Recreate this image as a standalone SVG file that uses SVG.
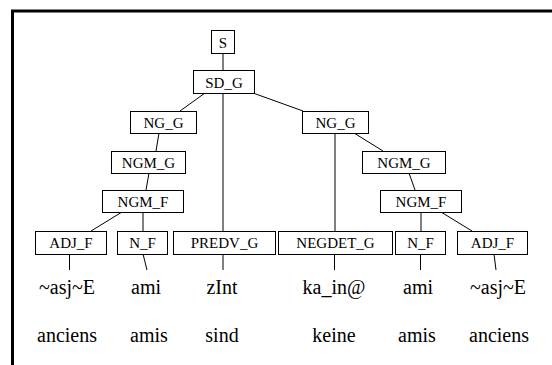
<svg xmlns="http://www.w3.org/2000/svg" width="552" height="365" viewBox="0 0 552 365">
  <style>
    .box rect { fill: #fff; stroke: #000; stroke-width: 1; }
    .box text { font-size: 15px; text-anchor: middle; fill: #000; }
    .edges line { stroke: #000; stroke-width: 1; }
    .word { font-size: 20px; text-anchor: middle; fill: #000; }
    .frame { stroke: #000; stroke-width: 3; fill: none; }
    .serif { font-family: 'Liberation Serif', 'Times New Roman', Times, Tinos, 'Nimbus Roman', 'Nimbus Roman No9 L', FreeSerif, 'Noto Serif', 'DejaVu Serif', serif; }
  </style>
  <rect width="552" height="365" fill="#fff"/>
  <!-- frame: left and top rules -->
  <path class="frame" d="M12.5,365 V11 H552"/>

  <g class="edges" id="edges">
    <line x1="223" y1="53" x2="223" y2="70"/>
    <line x1="205" y1="93" x2="180" y2="111"/>
    <line x1="223" y1="93" x2="223" y2="231"/>
    <line x1="253" y1="93" x2="303" y2="111"/>
    <line x1="159" y1="133" x2="156" y2="151"/>
    <line x1="149" y1="173" x2="146" y2="190"/>
    <line x1="122" y1="212" x2="91" y2="231"/>
    <line x1="143" y1="212" x2="143" y2="231"/>
    <line x1="335" y1="133" x2="335" y2="231"/>
    <line x1="354" y1="133" x2="383" y2="151"/>
    <line x1="409" y1="173" x2="415" y2="190"/>
    <line x1="421" y1="212" x2="421" y2="231"/>
    <line x1="441" y1="212" x2="472" y2="231"/>
    <line x1="69.5" y1="254" x2="69.5" y2="270"/>
    <line x1="143" y1="254" x2="147" y2="270"/>
    <line x1="223" y1="254" x2="223" y2="270"/>
    <line x1="334.5" y1="254" x2="334.5" y2="270"/>
    <line x1="420.5" y1="254" x2="420.5" y2="270"/>
    <line x1="494" y1="254" x2="496" y2="270"/>
  </g>

  <g class="serif">
  <g class="box" id="n-S"><rect x="211.5" y="30.5" width="23" height="23"/><text x="223" y="47.5">S</text></g>
  <g class="box" id="n-SD_G"><rect x="193.5" y="70.5" width="61" height="23"/><text x="224" y="87.5">SD_G</text></g>
  <g class="box" id="n-NG_G-1"><rect x="130.5" y="111.5" width="66" height="22"/><text x="163.5" y="128">NG_G</text></g>
  <g class="box" id="n-NG_G-2"><rect x="302.5" y="111.5" width="66" height="22"/><text x="335.5" y="128">NG_G</text></g>
  <g class="box" id="n-NGM_G-1"><rect x="111.5" y="151.5" width="74" height="22"/><text x="148.5" y="168">NGM_G</text></g>
  <g class="box" id="n-NGM_G-2"><rect x="362.5" y="151.5" width="83" height="22"/><text x="404" y="168">NGM_G</text></g>
  <g class="box" id="n-NGM_F-1"><rect x="102.5" y="190.5" width="81" height="22"/><text x="143" y="207">NGM_F</text></g>
  <g class="box" id="n-NGM_F-2"><rect x="380.5" y="190.5" width="81" height="22"/><text x="421" y="207">NGM_F</text></g>
  <g class="box" id="n-ADJ_F-1"><rect x="35.5" y="231.5" width="71" height="23"/><text x="71" y="248">ADJ_F</text></g>
  <g class="box" id="n-N_F-1"><rect x="117.5" y="231.5" width="50" height="23"/><text x="142.5" y="248">N_F</text></g>
  <g class="box" id="n-PREDV_G"><rect x="173.5" y="231.5" width="102" height="23"/><text x="224.5" y="248">PREDV_G</text></g>
  <g class="box" id="n-NEGDET_G"><rect x="278.5" y="231.5" width="114" height="23"/><text x="335.5" y="248">NEGDET_G</text></g>
  <g class="box" id="n-N_F-2"><rect x="395.5" y="231.5" width="50" height="23"/><text x="420.5" y="248">N_F</text></g>
  <g class="box" id="n-ADJ_F-2"><rect x="457.5" y="231.5" width="70" height="23"/><text x="492.5" y="248">ADJ_F</text></g>

  <g id="phonetic">
    <text class="word" x="67" y="294">~asj~E</text>
    <text class="word" x="146" y="294">ami</text>
    <text class="word" x="222" y="294">zInt</text>
    <text class="word" x="334" y="294">ka_in@</text>
    <text class="word" x="418" y="294">ami</text>
    <text class="word" x="498" y="294">~asj~E</text>
  </g>
  <g id="glosses">
    <text class="word" x="67" y="342">anciens</text>
    <text class="word" x="149" y="342">amis</text>
    <text class="word" x="222" y="342">sind</text>
    <text class="word" x="334" y="342">keine</text>
    <text class="word" x="417" y="342">amis</text>
    <text class="word" x="499" y="342">anciens</text>
  </g>
  </g>
</svg>
